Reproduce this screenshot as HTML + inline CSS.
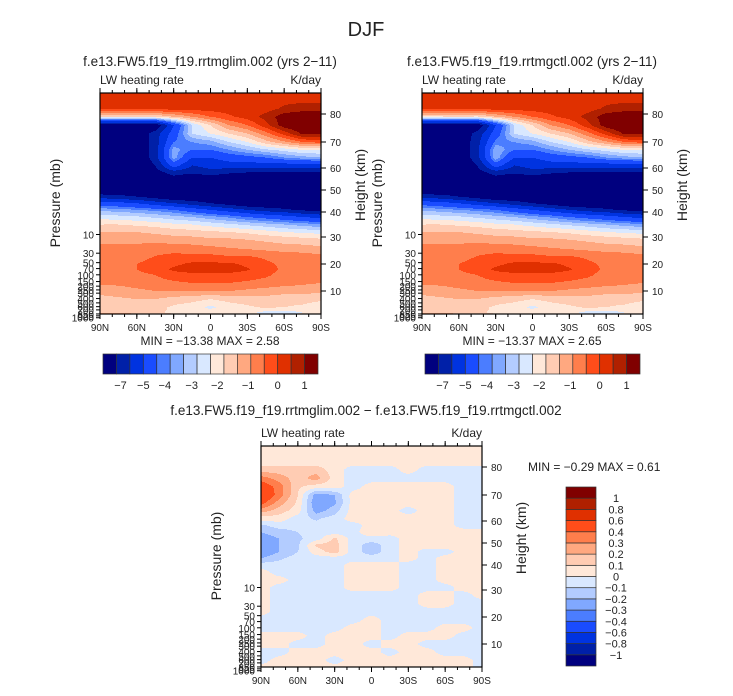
<!DOCTYPE html>
<html><head><meta charset="utf-8">
<style>
body{margin:0;background:#fff;}
svg text{font-family:"Liberation Sans",sans-serif;fill:#222;}
</style></head>
<body>
<svg id="root" width="733" height="691" viewBox="0 0 733 691" xmlns="http://www.w3.org/2000/svg">
<rect width="733" height="691" fill="#fff"/>
</svg>
<script>
// ---- data ----
const lats = [90,75,60,45,30,15,0,-15,-30,-45,-60,-75,-90];
const latTickLabels = ["90N","60N","30N","0","30S","60S","90S"];
const latTickValues = [90,60,30,0,-30,-60,-90];
const heightTicks = [80,70,60,50,40,30,20,10];
const pressureTicks = ["10","30","50","70","100","150","200","250","300","400","500","600","700","850","925","1000"];
const pressureTickKm = [31,24,20.5,18.3,16,13.5,11.8,10.4,9.2,7.2,5.6,4.2,3,1.5,0.8,0.1];
const topHeights = [86,82,79,76,73,70,67,64,61,58,55,50,47,44,41,38,35,32,29,26,23,20,18,16,13,10,7,4,2,1];
const limValues = [
[-0.25,-0.25,-0.25,-0.25,-0.25,-0.25,-0.25,-0.25,-0.25,-0.25,-0.25,-0.25,-0.25],
[-0.25,-0.25,-0.25,-0.25,-0.25,-0.25,-0.25,-0.25,-0.25,-0.25,0.1,0.25,0.25],
[-2.5,-2.5,-2.5,-2.5,-2,-1.5,-1,-0.6,-0.3,0.2,0.8,1,1],
[-9,-9,-9,-9,-6,-3.5,-2.5,-1.5,-1,-0.2,0.8,1.2,1.2],
[-9,-9,-9,-7.5,-5.5,-3.5,-3,-2.5,-2,-1.2,-0.3,0.6,0.6],
[-9,-9,-9,-7.5,-5,-4.5,-4.2,-3.5,-3,-2.2,-1.6,-1,-0.8],
[-9,-9,-9,-7.5,-4.2,-5,-5,-4.5,-4,-3.6,-3.3,-3,-3],
[-9,-9,-9,-7.5,-4.2,-6,-6,-5.5,-5.3,-5,-4.5,-4.2,-4],
[-9,-9,-9,-8,-5.5,-7,-6.7,-6.5,-6.5,-6.5,-6.5,-6.5,-6.5],
[-9,-9,-9,-8.5,-7.5,-7.8,-7.3,-7.8,-8,-8,-8,-8,-8],
[-9,-9,-9,-9,-8.5,-9,-9,-9,-9,-9,-9,-9,-9],
[-9,-9,-9,-9,-9,-9,-9,-9,-9,-9,-9,-9,-9],
[-7.5,-7.7,-8,-8.5,-9,-9,-9,-9,-9,-9,-9,-9,-9],
[-5.5,-5.7,-6,-6.5,-7,-7.5,-8,-8.5,-9,-9,-9,-9,-9],
[-4.2,-4.3,-4.5,-4.7,-5,-5.5,-6,-6.5,-7,-7.5,-7.8,-8.2,-8.5],
[-3.2,-3.3,-3.4,-3.6,-3.8,-4,-4.3,-4.6,-5,-5.3,-5.6,-6,-6.3],
[-2.5,-2.5,-2.6,-2.7,-2.9,-3,-3.2,-3.4,-3.6,-3.8,-4,-4.2,-4.4],
[-2,-2,-2,-2.1,-2.2,-2.3,-2.4,-2.5,-2.6,-2.8,-3,-3.1,-3.2],
[-1.7,-1.7,-1.7,-1.7,-1.8,-1.8,-1.9,-1.9,-2,-2.1,-2.2,-2.3,-2.4],
[-1.3,-1.3,-1.3,-1.2,-1.2,-1.3,-1.4,-1.5,-1.6,-1.7,-1.8,-1.8,-1.9],
[-1.2,-1.2,-1.1,-1,-0.9,-0.9,-0.9,-1,-1,-1.1,-1.2,-1.3,-1.4],
[-1.1,-1.1,-1,-0.9,-0.6,-0.4,-0.4,-0.4,-0.6,-0.9,-1.1,-1.2,-1.3],
[-1.1,-1.1,-1,-0.8,-0.4,-0.3,-0.3,-0.3,-0.45,-0.8,-1.1,-1.2,-1.3],
[-1.2,-1.2,-1.1,-1,-0.7,-0.6,-0.6,-0.6,-0.7,-0.9,-1.2,-1.3,-1.4],
[-1.4,-1.4,-1.3,-1.2,-1.1,-1,-1,-1,-1.1,-1.2,-1.3,-1.4,-1.5],
[-1.8,-1.7,-1.6,-1.5,-1.5,-1.5,-1.5,-1.5,-1.6,-1.7,-1.8,-1.8,-1.9],
[-2.2,-2.1,-2,-2,-2.2,-2.3,-2.5,-2.3,-2.2,-2.2,-2.3,-2.3,-2.4],
[-2.3,-2.3,-2.2,-2.3,-2.6,-2.8,-3.1,-2.8,-2.6,-2.4,-2.5,-2.6,-2.8],
[-2,-2,-2.2,-2.4,-2.6,-2.8,-2.8,-2.6,-2.8,-3.2,-3.3,-3,-2.7],
[-1.6,-1.6,-1.8,-2,-2.4,-2.6,-2.6,-2.5,-2.7,-3,-3,-2.8,-2.5]
];
const ctlValues = [
[-0.25,-0.25,-0.25,-0.25,-0.25,-0.25,-0.25,-0.25,-0.25,-0.25,-0.25,-0.25,-0.25],
[-0.25,-0.25,-0.25,-0.25,-0.25,-0.25,-0.25,-0.25,-0.25,-0.25,0.1,0.25,0.25],
[-2.6,-2.6,-2.5,-2.6,-2,-1.5,-1,-0.6,-0.3,0.2,0.8,1,1],
[-9,-9,-9,-9,-6,-3.5,-2.5,-1.5,-1,-0.2,0.8,1.2,1.2],
[-9,-9,-9,-7.6,-5.5,-3.5,-3,-2.5,-2,-1.2,-0.3,0.6,0.6],
[-9,-9,-9,-7.4,-4.8,-4.5,-4.2,-3.5,-3,-2.2,-1.6,-1,-0.8],
[-9,-9,-9,-7.3,-4,-5,-5,-4.5,-4,-3.6,-3.3,-3,-3],
[-9,-9,-9,-7.4,-4.1,-6,-6,-5.5,-5.3,-5,-4.5,-4.2,-4],
[-9,-9,-9,-8,-5.5,-7,-6.7,-6.5,-6.5,-6.5,-6.5,-6.5,-6.5],
[-9,-9,-9,-8.5,-7.5,-7.8,-7.3,-7.8,-8,-8,-8,-8,-8],
[-9,-9,-9,-9,-8.5,-9,-9,-9,-9,-9,-9,-9,-9],
[-9,-9,-9,-9,-9,-9,-9,-9,-9,-9,-9,-9,-9],
[-7.4,-7.6,-8,-8.5,-9,-9,-9,-9,-9,-9,-9,-9,-9],
[-5.4,-5.6,-6,-6.5,-7,-7.5,-8,-8.5,-9,-9,-9,-9,-9],
[-4.1,-4.3,-4.5,-4.7,-5,-5.5,-6,-6.5,-7,-7.5,-7.8,-8.2,-8.5],
[-3.2,-3.3,-3.4,-3.6,-3.8,-4,-4.3,-4.6,-5,-5.3,-5.6,-6,-6.3],
[-2.5,-2.5,-2.6,-2.7,-2.9,-3,-3.2,-3.4,-3.6,-3.8,-4,-4.2,-4.4],
[-2,-2,-2,-2.1,-2.2,-2.3,-2.4,-2.5,-2.6,-2.8,-3,-3.1,-3.2],
[-1.7,-1.7,-1.7,-1.7,-1.8,-1.8,-1.9,-1.9,-2,-2.1,-2.2,-2.3,-2.4],
[-1.3,-1.3,-1.3,-1.2,-1.2,-1.3,-1.4,-1.5,-1.6,-1.7,-1.8,-1.8,-1.9],
[-1.2,-1.2,-1.1,-1,-0.9,-0.9,-0.9,-1,-1,-1.1,-1.2,-1.3,-1.4],
[-1.1,-1.1,-1,-0.9,-0.6,-0.4,-0.4,-0.4,-0.6,-0.9,-1.1,-1.2,-1.3],
[-1.1,-1.1,-1,-0.8,-0.4,-0.3,-0.3,-0.3,-0.45,-0.8,-1.1,-1.2,-1.3],
[-1.2,-1.2,-1.1,-1,-0.7,-0.6,-0.6,-0.6,-0.7,-0.9,-1.2,-1.3,-1.4],
[-1.4,-1.4,-1.3,-1.2,-1.1,-1,-1,-1,-1.1,-1.2,-1.3,-1.4,-1.5],
[-1.8,-1.7,-1.6,-1.5,-1.5,-1.5,-1.5,-1.5,-1.6,-1.7,-1.8,-1.8,-1.9],
[-2.2,-2.1,-2,-2,-2.2,-2.3,-2.5,-2.3,-2.2,-2.2,-2.3,-2.3,-2.4],
[-2.3,-2.3,-2.2,-2.3,-2.6,-2.8,-3.1,-2.8,-2.6,-2.4,-2.5,-2.6,-2.8],
[-2,-2,-2.2,-2.4,-2.6,-2.8,-2.8,-2.6,-2.8,-3.2,-3.3,-3,-2.7],
[-1.6,-1.6,-1.8,-2,-2.4,-2.6,-2.6,-2.5,-2.7,-3,-3,-2.8,-2.5]
];
const diffHeights = [86,82,79,76,73,70,67,64,61,58,55,52,49,46,43,40,37,34,31,28,25,22,19,16,13,10,7,4,1];
const diffValues = [
[0.05,0.05,0.05,0.05,0.05,0.05,0.05,0.05,0.05,0.05,0.05,0.05,0.05],
[0.05,0.05,0.05,0.05,0.05,0.05,0.05,0.05,0.05,0.05,0.05,0.05,0.05],
[0.15,0.15,0.15,0.15,0.05,-0.05,-0.05,-0.05,0.05,-0.05,-0.05,-0.05,-0.05],
[0.35,0.25,0.15,0.25,0.05,-0.05,-0.05,-0.05,-0.05,-0.05,-0.05,-0.05,-0.05],
[0.5,0.35,0.12,0.05,0.05,-0.05,0.05,0.05,0.05,0.05,0.05,-0.05,-0.05],
[0.55,0.35,0.1,-0.25,-0.2,0.05,0.05,0.05,0.05,0.05,0.05,-0.05,-0.05],
[0.45,0.25,0.08,-0.3,-0.22,0.05,0.05,0.05,0.05,0.05,0.05,-0.05,-0.05],
[0.25,0.15,0.05,-0.25,-0.15,0.05,0.05,0.05,-0.05,0.05,0.05,-0.05,-0.05],
[0.05,0.05,-0.05,-0.12,-0.05,0.05,0.05,0.05,0.05,0.05,0.05,-0.05,-0.05],
[-0.12,-0.05,-0.05,-0.05,-0.05,-0.05,0.05,0.05,0.05,0.05,0.05,-0.05,-0.05],
[-0.2,-0.15,-0.1,-0.05,-0.05,-0.05,0.1,0.05,0.05,0.05,0.05,0.05,0.05],
[-0.25,-0.2,-0.12,-0.05,0.12,-0.05,-0.05,-0.05,0.05,0.05,0.05,0.05,0.05],
[-0.3,-0.2,-0.12,0.12,0.15,-0.05,-0.15,-0.05,0.05,0.05,0.05,0.05,0.05],
[-0.3,-0.2,-0.1,0.05,0.15,-0.05,-0.15,-0.05,0.05,-0.05,-0.05,0.05,0.05],
[-0.2,-0.12,-0.05,-0.05,-0.05,-0.05,-0.05,-0.05,0.05,-0.05,0.05,0.05,0.05],
[-0.05,-0.05,-0.05,-0.05,-0.05,0.05,0.05,0.05,-0.05,-0.05,0.05,0.05,0.05],
[0.05,-0.05,-0.05,-0.05,-0.05,0.05,0.05,0.05,-0.05,-0.05,0.05,0.05,0.05],
[0.05,0.05,-0.05,-0.05,-0.05,0.05,0.05,0.05,-0.05,-0.05,0.05,0.05,0.05],
[0.05,-0.05,-0.05,-0.05,-0.05,0.05,0.05,0.05,-0.05,-0.05,-0.05,0.05,0.05],
[0.05,-0.05,-0.05,-0.05,-0.05,-0.05,-0.05,-0.05,-0.05,0.05,0.05,-0.05,0.05],
[0.05,-0.05,-0.05,-0.05,-0.05,-0.05,-0.05,-0.05,-0.05,0.05,0.05,-0.05,-0.05],
[0.05,-0.05,-0.05,-0.05,-0.05,-0.05,-0.05,-0.05,-0.05,-0.05,-0.05,-0.05,-0.05],
[-0.05,-0.05,-0.05,-0.05,-0.05,-0.05,0.05,-0.05,-0.05,-0.05,-0.05,-0.05,-0.05],
[-0.05,-0.05,-0.05,-0.05,-0.05,0.05,0.05,-0.05,-0.05,-0.05,0.05,0.05,-0.05],
[0.05,0.05,0.05,-0.05,0.05,0.05,0.05,-0.05,0.05,0.05,0.05,-0.05,-0.05],
[0.05,0.05,-0.05,-0.05,0.05,0.05,-0.05,0.05,0.05,-0.05,-0.05,-0.05,-0.05],
[-0.05,-0.05,0.05,0.05,0.05,0.05,0.05,-0.05,0.05,0.05,-0.05,-0.05,-0.05],
[-0.05,0.05,0.05,0.05,-0.05,0.05,0.05,0.05,0.05,0.05,0.05,0.05,-0.05],
[0.05,0.05,0.05,0.05,0.05,0.05,0.05,0.05,0.05,0.05,0.05,0.05,-0.05]
];
const absLevels = [-8,-7,-6,-5,-4.5,-4,-3.5,-3,-2.5,-2,-1.5,-1,-0.5,0,0.5];
const absBarLabels = ["-7","-5","-4","-3","-2","-1","0","1"];
const absBarLabelPos = [1.3,3,4.6,6.6,8.5,10.8,13,15];
const diffLevels = [-1,-0.8,-0.6,-0.4,-0.3,-0.2,-0.1,0,0.1,0.2,0.3,0.4,0.6,0.8,1];
const diffBarLabels = ["-1","-0.8","-0.6","-0.4","-0.3","-0.2","-0.1","0","0.1","0.2","0.3","0.4","0.6","0.8","1"];
const palette = ["#00007f","#0020a8","#0033e0","#1a4cff","#4b7dff","#80a8ff","#b3ccff","#d9e8ff","#ffe8d9","#ffccb3","#ffa880","#ff7e4c","#ff4d1a","#e03000","#b02000","#800000"];

// ---- axis functions ----
const kmTable = [90,80,70,60,50,40,30,20,10,0];
const offTable = [-7,21,49,75,97,119,144,171,198,225];
function kmToOff(km){
  for(let i=0;i<kmTable.length-1;i++){
    if(km<=kmTable[i]&&km>=kmTable[i+1]){const t=(kmTable[i]-km)/(kmTable[i]-kmTable[i+1]);return offTable[i]+t*(offTable[i+1]-offTable[i]);}
  }
  return km>90?offTable[0]:offTable[offTable.length-1];
}
function offToKm(o){
  for(let i=0;i<offTable.length-1;i++){
    if(o>=offTable[i]&&o<=offTable[i+1]){const t=(o-offTable[i])/(offTable[i+1]-offTable[i]);return kmTable[i]+t*(kmTable[i+1]-kmTable[i]);}
  }
  return 0;
}
function latToX(lat,x0,w){return x0+(90-lat)/180*w;}
function sample(heights,vals,km,lat){
  let r=0;
  if(km>=heights[0]) r=0; else if(km<=heights[heights.length-1]) r=heights.length-1;
  else { for(let i=0;i<heights.length-1;i++){ if(km<=heights[i]&&km>=heights[i+1]){ r=i+(heights[i]-km)/(heights[i]-heights[i+1]); break; } } }
  let c=(90-lat)/15; c=Math.max(0,Math.min(lats.length-1,c));
  const r0=Math.floor(r), r1=Math.min(r0+1,heights.length-1), fr=r-r0;
  const c0=Math.floor(c), c1=Math.min(c0+1,lats.length-1), fc=c-c0;
  const a=vals[r0][c0]*(1-fc)+vals[r0][c1]*fc;
  const b=vals[r1][c0]*(1-fc)+vals[r1][c1]*fc;
  return a*(1-fr)+b*fr;
}
function colorIndex(v,levels){let k=0;while(k<levels.length&&v>=levels[k])k++;return k;}

const NS="http://www.w3.org/2000/svg";
const root=document.getElementById('root');
function el(tag,attrs,parent){const e=document.createElementNS(NS,tag);for(const k in attrs)e.setAttribute(k,attrs[k]);(parent||root).appendChild(e);return e;}
function txt(x,y,s,size,anchor,parent,extra){const t=el('text',Object.assign({x:x,y:y,'font-size':size,'text-anchor':anchor||'middle'},extra||{}),parent);t.textContent=s;return t;}

function drawPanel(name,x0,y0,heights,vals,levels){
  const w=221,h=221;
  const g=el('g',{});
  
  
  const field=el('g',{},g);
  
  
  for(let py=0;py<h;py++){
    const km=offToKm(py+0.5);
    let runStart=0,runC=-1;
    for(let px=0;px<=w;px++){
      let ci=-2;
      if(px<w){const lat=90-(px+0.5)/w*180;ci=colorIndex(sample(heights,vals,km,lat),levels);}
      if(ci!==runC){
        if(runC>=0){const r=el('rect',{x:x0+runStart,y:y0+py,width:px-runStart,height:1.02,fill:palette[runC]},field);
          
          }
        runStart=px;runC=ci;
      }
    }
  }
  const fr=el('rect',{x:x0,y:y0,width:w,height:h,fill:'none',stroke:'#000','stroke-width':1.2},g);
  
  
  for(let i=0;i<latTickValues.length;i++){
    const x=latToX(latTickValues[i],x0,w);
    el('line',{x1:x,y1:y0+h,x2:x,y2:y0+h+5,stroke:'#000'},g);
    el('line',{x1:x,y1:y0,x2:x,y2:y0-5,stroke:'#000'},g);
    const t=txt(x,y0+h+17,latTickLabels[i],10,'middle',g);
    
    
  }
  for(let lat=80;lat>-90;lat-=10){const x=latToX(lat,x0,w);el('line',{x1:x,y1:y0+h,x2:x,y2:y0+h+3,stroke:'#000'},g);el('line',{x1:x,y1:y0,x2:x,y2:y0-3,stroke:'#000'},g);}
  for(const hk of heightTicks){
    const y=y0+kmToOff(hk);
    el('line',{x1:x0+w,y1:y,x2:x0+w+5,y2:y,stroke:'#000'},g);
    const t=txt(x0+w+9,y+4,String(hk),10,'start',g);
    
    
  }
  for(let i=0;i<pressureTicks.length;i++){
    const y=y0+kmToOff(pressureTickKm[i]);
    el('line',{x1:x0,y1:y,x2:x0-4,y2:y,stroke:'#000'},g);
    const t=txt(x0-6,y+4,pressureTicks[i],10,'end',g);
    
    
  }
  let t=txt(x0,y0-9,'LW heating rate',12,'start',g);
  
  t=txt(x0+w,y0-9,'K/day',12,'end',g);
  
  t=txt(0,0,'Pressure (mb)',14,'middle',g,{transform:`translate(${x0-40},${y0+110}) rotate(-90)`,fill:'#444'});
  
  t=txt(0,0,'Height (km)',14,'middle',g,{transform:`translate(${x0+w+44},${y0+92}) rotate(-90)`,fill:'#444'});
  
  return g;
}
function hColorbar(name,x0,y0,w,h){
  const g=el('g',{});
  
  
  const bw=w/palette.length;
  for(let i=0;i<palette.length;i++){
    const r=el('rect',{x:x0+i*bw,y:y0,width:bw,height:h,fill:palette[i],stroke:'#333','stroke-width':0.7},g);
    
    
  }
  for(let i=0;i<absBarLabels.length;i++){
    const t=txt(x0+absBarLabelPos[i]*bw,y0+h+15,absBarLabels[i].replace('-','\u2212'),11,'middle',g);
    
    
  }
}
function vColorbar(name,x0,y0,w,h){
  const g=el('g',{});
  
  
  const bh=h/palette.length;
  for(let i=0;i<palette.length;i++){
    const r=el('rect',{x:x0,y:y0+(palette.length-1-i)*bh,width:w,height:bh,fill:palette[i],stroke:'#333','stroke-width':0.7},g);
    
    
  }
  for(let k=0;k<diffBarLabels.length;k++){
    const y=y0+(palette.length-1-k)*bh;
    const t=txt(x0+w+20,y+4,diffBarLabels[k].replace('-','\u2212'),11,'middle',g);
    
    
  }
}

let t=txt(366,36,'DJF',20,'middle',root,{fill:'#444'});

t=txt(210,66,'f.e13.FW5.f19_f19.rrtmglim.002 (yrs 2\u221211)',13.5,'middle');

t=txt(532,66,'f.e13.FW5.f19_f19.rrtmgctl.002 (yrs 2\u221211)',13.5,'middle');

t=txt(366,415,'f.e13.FW5.f19_f19.rrtmglim.002 \u2212 f.e13.FW5.f19_f19.rrtmgctl.002',13.5,'middle');


drawPanel('lim-panel',100,93,topHeights,limValues,absLevels);
drawPanel('ctl-panel',422,93,topHeights,ctlValues,absLevels);
drawPanel('diff-panel',261,446,diffHeights,diffValues,diffLevels);

t=txt(210,345,'MIN = \u221213.38   MAX =    2.58',12,'middle');

t=txt(532,345,'MIN = \u221213.37   MAX =    2.65',12,'middle');

t=txt(528,471,'MIN =   \u22120.29   MAX =    0.61',12,'start');


hColorbar('lim-colorbar',103,354,215,20);
hColorbar('ctl-colorbar',425,354,215,20);
vColorbar('diff-colorbar',566,487,30,179);
</script>
</body></html>
